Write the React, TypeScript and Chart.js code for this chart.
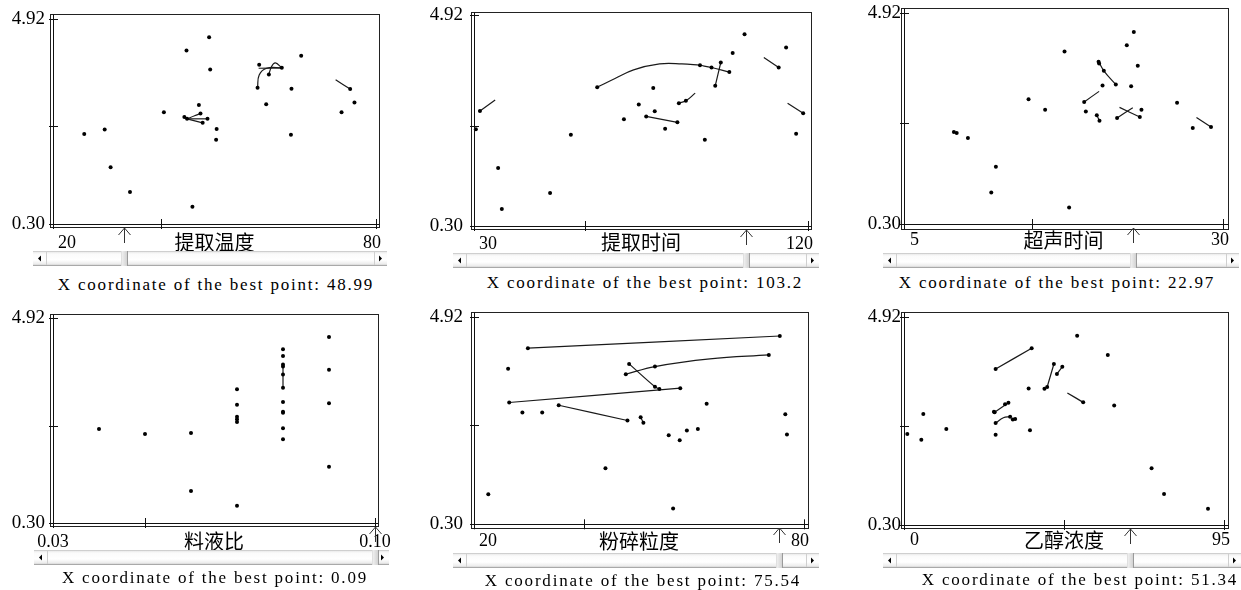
import { useEffect, useRef } from "react";
import { Chart, registerables } from "chart.js";

Chart.register(...registerables);

type Pt = [number, number];

// ---------- shared axis data ----------
const yTickValues = [0.3, 2.5, 4.92];
const yTickLabels = ["0.30", "", "4.92"];

const xTitles = ["提取温度", "提取时间", "超声时间", "料液比", "粉碎粒度", "乙醇浓度"];
const xMins = [20, 30, 5, 0.03, 20, 0];
const xMaxs = [80, 120, 30, 0.1, 80, 95];
const xMids = [40, 60, 15, 0.05, 40, 47.5];
const xMinLabels = ["20", "30", "5", "0.03", "20", "0"];
const xMaxLabels = ["80", "120", "30", "0.10", "80", "95"];
const markerX = [33.1, 103.2, 22.97, 0.1, 75.54, 67.1];
const bestX = ["48.99", "103.2", "22.97", "0.09", "75.54", "51.34"];

// ---------- panel 1: 提取温度 ----------
const p1Points: Pt[] = [
  [25.8, 2.33], [29.6, 2.43], [30.7, 1.58], [34.3, 1.02], [40.6, 2.82], [44.8, 4.21],
  [45.9, 0.69], [49.0, 4.51], [49.2, 3.78], [47.1, 2.98], [44.4, 2.71], [44.9, 2.67],
  [47.4, 2.79], [47.8, 2.58], [48.7, 2.67], [50.4, 2.44], [50.3, 2.2], [58.3, 3.89],
  [58.0, 3.37], [59.6, 3.0], [60.1, 3.67], [62.5, 3.82], [64.3, 3.35], [64.2, 2.31],
  [66.1, 4.09], [73.6, 2.82], [75.2, 3.34], [76.0, 3.04],
];
const p1Lines: Pt[][] = [
  [[44.9, 2.67], [48.7, 2.67]],
  [[44.9, 2.67], [46.3, 2.74], [47.4, 2.79]],
  [[44.9, 2.67], [47.8, 2.58]],
  [[44.4, 2.71], [44.9, 2.67]],
  [[58.0, 3.37], [58.3, 3.66], [59.7, 3.81], [62.5, 3.82]],
  [[58.2, 3.81], [62.5, 3.82]],
  [[60.1, 3.67], [60.6, 3.85], [61.3, 3.93], [62.5, 3.82]],
  [[72.5, 3.55], [75.2, 3.34]],
];

// ---------- panel 2: 提取时间 ----------
const p2Points: Pt[] = [
  [30.5, 2.42], [31.6, 2.82], [36.5, 1.57], [37.5, 0.67], [50.5, 1.02], [56.1, 2.3],
  [63.2, 3.34], [70.4, 2.64], [74.4, 2.96], [78.3, 3.32], [78.7, 2.81], [76.4, 2.7],
  [84.8, 2.57], [81.5, 2.43], [85.2, 2.99], [87.1, 3.04], [92.2, 2.19], [90.9, 3.82],
  [94.0, 3.77], [98.8, 3.67], [95.0, 3.37], [96.5, 3.88], [99.7, 4.09], [102.9, 4.5],
  [112.1, 3.77], [114.1, 4.21], [116.8, 2.32], [118.7, 2.77],
];
const p2Lines: Pt[][] = [
  [[31.6, 2.82], [35.7, 3.06]],
  [[63.2, 3.34], [68, 3.53], [73, 3.72], [80, 3.85], [86, 3.85], [90.9, 3.82]],
  [[90.9, 3.82], [94.0, 3.77], [98.8, 3.67]],
  [[95.0, 3.37], [96.5, 3.88]],
  [[76.4, 2.7], [84.8, 2.57]],
  [[85.2, 2.99], [87.1, 3.04], [89.6, 3.21]],
  [[108.1, 3.99], [112.1, 3.77]],
  [[114.5, 2.99], [118.7, 2.77]],
];

// ---------- panel 3: 超声时间 ----------
const p3Points: Pt[] = [
  [8.91, 2.31], [9.13, 2.29], [10.01, 2.18], [12.2, 1.55], [11.84, 0.99], [14.76, 3.03],
  [16.06, 2.8], [17.58, 4.07], [17.94, 0.66], [19.12, 2.97], [19.25, 2.76], [20.11, 2.68],
  [20.32, 2.56], [20.25, 3.85], [20.29, 3.81], [20.66, 3.65], [21.6, 3.35], [20.56, 3.33],
  [22.46, 4.21], [23.01, 4.5], [22.8, 3.31], [23.32, 3.76], [21.7, 2.62], [23.48, 2.64],
  [23.61, 2.8], [26.4, 2.95], [27.63, 2.4], [29.06, 2.42],
];
const p3Lines: Pt[][] = [
  [[19.12, 2.97], [20.29, 3.2]],
  [[20.25, 3.85], [20.66, 3.65], [21.6, 3.35]],
  [[21.7, 2.62], [22.93, 2.84]],
  [[21.89, 2.85], [23.48, 2.64]],
  [[27.92, 2.63], [29.06, 2.42]],
  [[20.11, 2.68], [20.32, 2.56]],
];

// ---------- panel 4: 料液比 ----------
const p4Points: Pt[] = [
  [0.04, 2.42], [0.05, 2.31], [0.06, 2.33], [0.06, 1.02], [0.07, 3.32], [0.07, 2.97],
  [0.07, 2.7], [0.07, 2.64], [0.07, 2.58], [0.07, 0.69], [0.08, 4.22], [0.08, 4.07],
  [0.08, 3.88], [0.08, 3.83], [0.08, 3.65], [0.08, 3.35], [0.08, 3.03], [0.08, 2.81],
  [0.08, 2.79], [0.08, 2.44], [0.08, 2.19], [0.09, 4.5], [0.09, 3.76], [0.09, 3.0],
  [0.09, 1.57],
];
const p4Lines: Pt[][] = [[[0.08, 3.88], [0.08, 3.35]]];

// ---------- panel 5: 粉碎粒度 ----------
const p5Points: Pt[] = [
  [22.6, 0.97], [26.2, 3.76], [26.4, 3.01], [28.8, 2.79], [32.4, 2.79], [29.8, 4.22],
  [35.4, 2.95], [47.9, 2.61], [43.9, 1.55], [47.6, 3.64], [52.9, 3.81], [48.2, 3.87],
  [52.9, 3.36], [53.7, 3.31], [57.5, 3.33], [50.3, 2.68], [50.8, 2.56], [55.4, 2.28],
  [56.2, 0.65], [57.4, 2.17], [58.7, 2.39], [60.7, 2.42], [62.3, 2.98], [73.6, 4.07],
  [75.6, 4.49], [76.6, 2.75], [76.9, 2.3],
];
const p5Lines: Pt[][] = [
  [[26.4, 3.01], [57.5, 3.33]],
  [[29.8, 4.22], [75.6, 4.49]],
  [[35.4, 2.95], [47.9, 2.61]],
  [[47.6, 3.64], [52.9, 3.81], [62.9, 3.98], [73.6, 4.07]],
  [[48.2, 3.87], [52.9, 3.36], [53.7, 3.31]],
  [[50.3, 2.68], [50.8, 2.56]],
];

// ---------- panel 6: 乙醇浓度 ----------
const p6Points: Pt[] = [
  [0.98, 2.32], [5.14, 2.19], [5.73, 2.76], [12.56, 2.43], [27.2, 3.76], [37.9, 4.22],
  [26.7, 2.81], [26.9, 2.8], [31.0, 3.01], [30.0, 2.98], [27.2, 2.56], [31.5, 2.7],
  [32.3, 2.64], [33.0, 2.65], [27.2, 2.3], [37.0, 3.33], [37.4, 2.4], [41.7, 3.32],
  [42.5, 3.36], [44.5, 3.87], [45.4, 3.65], [47.0, 3.81], [51.4, 4.5], [53.2, 3.02],
  [60.5, 4.07], [62.4, 2.95], [73.5, 1.56], [77.2, 0.99], [90.25, 0.66],
];
const p6Lines: Pt[][] = [
  [[27.2, 3.76], [37.9, 4.22]],
  [[26.9, 2.8], [31.0, 3.01]],
  [[27.2, 2.56], [29.5, 2.68], [31.5, 2.7]],
  [[42.5, 3.36], [44.5, 3.87]],
  [[45.4, 3.65], [47.0, 3.81]],
  [[48.5, 3.23], [53.2, 3.02]],
];

const panelPoints = [p1Points, p2Points, p3Points, p4Points, p5Points, p6Points];
const panelLines = [p1Lines, p2Lines, p3Lines, p4Lines, p5Lines, p6Lines];

// ---------- layout (page pixels) ----------
interface Geo {
  cl: number; ct: number; cw: number; ch: number;
  l: number; r: number; t: number; b: number;
  xh: number; xPad: number; yPad: number; xOff: number; xAlign: "inner" | "center";
  frame: [number, number, number, number];
  sb: [number, number, number];
  cap: [number, number];
}

const GEO: Geo[] = [
  { cl: 0, ct: -10, cw: 415, ch: 282, l: 53, r: 376, t: 19, b: 224, xh: 30.7, xPad: 8, yPad: 8, xOff: 5, xAlign: "inner", frame: [3, 3, 5, 3], sb: [33, 387, 251], cap: [216, 285] },
  { cl: 415, ct: -10, cw: 415, ch: 282, l: 474, r: 808, t: 15, b: 226, xh: 28.7, xPad: 7, yPad: 11, xOff: 5, xAlign: "inner", frame: [3, 3, 3, 3], sb: [453, 819, 253], cap: [645, 283] },
  { cl: 830, ct: -10, cw: 411, ch: 282, l: 904, r: 1223, t: 12.7, b: 224, xh: 28.7, xPad: 5, yPad: 3, xOff: 6, xAlign: "inner", frame: [3, 5, 5, 5], sb: [883, 1239, 253], cap: [1057, 283] },
  { cl: 0, ct: 285, cw: 415, ch: 287, l: 53, r: 375, t: 318.3, b: 523, xh: 30, xPad: 8, yPad: 8, xOff: 0, xAlign: "center", frame: [3, 3, 4, 3], sb: [34, 389, 550], cap: [215, 578] },
  { cl: 415, ct: 285, cw: 415, ch: 287, l: 474, r: 804, t: 316.7, b: 524.3, xh: 28.7, xPad: 6.6, yPad: 11, xOff: 5, xAlign: "inner", frame: [3, 3.5, 4.4, 4], sb: [453, 819, 553], cap: [643, 581] },
  { cl: 830, ct: 285, cw: 411, ch: 287, l: 904, r: 1224, t: 316.7, b: 525, xh: 27.2, xPad: 4, yPad: 3, xOff: 6, xAlign: "inner", frame: [3.3, 4.3, 4.4, 3], sb: [883, 1241, 553], cap: [1080, 580] },
];

const NUM_FONT = '"Liberation Serif", "DejaVu Serif", serif';
const CJK_FONT = '"Noto Sans CJK SC", "Noto Sans CJK JP", sans-serif';

function decorPlugin(g: Geo, marker: number) {
  return {
    id: "decor",
    afterDraw(chart: any) {
      const ctx: CanvasRenderingContext2D = chart.ctx;
      const a = chart.chartArea;
      const xs = chart.scales.x;
      const ys = chart.scales.y;
      const R = (v: number) => Math.round(v) + 0.5;
      const fl = a.left - g.frame[0];
      const fr = a.right + g.frame[1];
      const ft = a.top - g.frame[2];
      const fb = a.bottom + g.frame[3];
      ctx.save();
      ctx.strokeStyle = "#222";
      ctx.lineWidth = 1;
      ctx.strokeRect(R(fl), R(ft), Math.round(fr) - Math.round(fl), Math.round(fb) - Math.round(ft));
      ctx.beginPath();
      ctx.strokeStyle = "#111";
      ctx.moveTo(R(a.left), R(ft));
      ctx.lineTo(R(a.left), R(fb));
      ctx.moveTo(R(fl), R(a.bottom));
      ctx.lineTo(R(fr), R(a.bottom));
      for (const tk of ys.ticks) {
        const y = R(ys.getPixelForValue(tk.value));
        ctx.moveTo(a.left - 4, y);
        ctx.lineTo(a.left + 5, y);
      }
      for (const tk of xs.ticks) {
        const x = R(xs.getPixelForValue(tk.value));
        ctx.moveTo(x, a.bottom - 5);
        ctx.lineTo(x, a.bottom + 5);
      }
      ctx.stroke();

      // marker arrow under the axis
      const ax = R(xs.getPixelForValue(marker));
      const ay = Math.round(a.bottom) + 4;
      ctx.beginPath();
      ctx.strokeStyle = "#333";
      ctx.moveTo(ax, ay);
      ctx.lineTo(ax, ay + 15);
      ctx.moveTo(ax - 6, ay + 7);
      ctx.lineTo(ax, ay);
      ctx.lineTo(ax + 6, ay + 7);
      ctx.stroke();

      // scrollbar
      const x0 = g.sb[0] - g.cl;
      const x1 = g.sb[1] - g.cl;
      const y0 = g.sb[2] - g.ct;
      const h = 15;
      const grad = ctx.createLinearGradient(0, y0, 0, y0 + h);
      grad.addColorStop(0, "#e2e2e2");
      grad.addColorStop(0.2, "#fbfbfb");
      grad.addColorStop(0.6, "#ffffff");
      grad.addColorStop(0.85, "#ededed");
      grad.addColorStop(1, "#c4c4c4");
      ctx.fillStyle = grad;
      ctx.fillRect(x0, y0, x1 - x0, h);
      ctx.beginPath();
      ctx.strokeStyle = "#cfcfcf";
      ctx.moveTo(x0, y0 + 0.5);
      ctx.lineTo(x1, y0 + 0.5);
      ctx.moveTo(R(x0 + 13), y0 + 1);
      ctx.lineTo(R(x0 + 13), y0 + h - 1);
      ctx.moveTo(R(x1 - 13), y0 + 1);
      ctx.lineTo(R(x1 - 13), y0 + h - 1);
      ctx.stroke();
      ctx.beginPath();
      ctx.strokeStyle = "#a9a9a9";
      ctx.moveTo(x0, y0 + h - 0.5);
      ctx.lineTo(x1, y0 + h - 0.5);
      ctx.stroke();
      ctx.fillStyle = "#000";
      const cy = y0 + h / 2;
      ctx.beginPath();
      ctx.moveTo(x0 + 5, cy);
      ctx.lineTo(x0 + 8, cy - 3);
      ctx.lineTo(x0 + 8, cy + 3);
      ctx.closePath();
      ctx.fill();
      ctx.beginPath();
      ctx.moveTo(x1 - 5, cy);
      ctx.lineTo(x1 - 8, cy - 3);
      ctx.lineTo(x1 - 8, cy + 3);
      ctx.closePath();
      ctx.fill();
      const tx = Math.round(xs.getPixelForValue(marker));
      const tg = ctx.createLinearGradient(tx - 3, 0, tx + 4, 0);
      tg.addColorStop(0, "#f4f4f4");
      tg.addColorStop(1, "#cdcdcd");
      ctx.fillStyle = tg;
      ctx.fillRect(tx - 3, y0, 7, h);
      ctx.beginPath();
      ctx.strokeStyle = "#9a9a9a";
      ctx.moveTo(tx + 3.5, y0);
      ctx.lineTo(tx + 3.5, y0 + h);
      ctx.stroke();
      ctx.beginPath();
      ctx.strokeStyle = "#e0e0e0";
      ctx.moveTo(tx - 2.5, y0);
      ctx.lineTo(tx - 2.5, y0 + h);
      ctx.stroke();
      ctx.restore();
    },
  };
}

function Panel({ i }: { i: number }) {
  const ref = useRef<HTMLCanvasElement | null>(null);
  const g = GEO[i];
  useEffect(() => {
    if (!ref.current) return;
    const xmin = xMins[i];
    const xmax = xMaxs[i];
    const toXY = (p: Pt) => ({ x: p[0], y: p[1] });
    const datasets: any[] = [
      {
        type: "scatter",
        data: panelPoints[i].map(toXY),
        pointRadius: 2,
        pointBackgroundColor: "#000",
        pointBorderWidth: 0,
        showLine: false,
        clip: false,
      },
      ...panelLines[i].map((seg) => ({
        type: "line",
        data: seg.map(toXY),
        showLine: true,
        pointRadius: 0,
        borderColor: "#1a1a1a",
        borderWidth: 1.2,
        tension: 0.4,
        fill: false,
        clip: false,
      })),
    ];
    const xLabels = [xMinLabels[i], "", xMaxLabels[i]];
    const chart = new Chart(ref.current, {
      type: "scatter",
      data: { datasets },
      options: {
        animation: false,
        responsive: false,
        devicePixelRatio: 1,
        events: [],
        layout: {
          padding: {
            left: 0,
            right: g.cl + g.cw - g.r,
            top: g.t - g.ct,
            bottom: g.ct + g.ch - g.b - g.xh,
          },
        },
        plugins: {
          legend: { display: false },
          tooltip: { enabled: false },
          title: { display: false },
        },
        scales: {
          x: {
            type: "linear",
            position: "bottom",
            min: xmin,
            max: xmax,
            afterBuildTicks: (s: any) => {
              s.ticks = [{ value: xmin }, { value: xMids[i] }, { value: xmax }];
            },
            afterFit: (s: any) => {
              s.height = g.xh;
              s.paddingLeft = 0;
              s.paddingRight = 0;
            },
            grid: { display: false, drawTicks: false },
            border: { display: false },
            ticks: {
              autoSkip: false,
              maxRotation: 0,
              minRotation: 0,
              align: g.xAlign,
              labelOffset: g.xOff,
              padding: g.xPad,
              color: "#000",
              font: { family: NUM_FONT, size: 18 },
              callback: (_v: any, idx: number) => xLabels[idx] ?? "",
            },
            title: {
              display: true,
              text: xTitles[i],
              color: "#000",
              font: { family: CJK_FONT, size: 20 },
              padding: 0,
            },
          },
          y: {
            type: "linear",
            min: 0.3,
            max: 4.92,
            afterBuildTicks: (s: any) => {
              s.ticks = yTickValues.map((v) => ({ value: v }));
            },
            afterFit: (s: any) => {
              s.width = g.l - g.cl;
              s.paddingTop = 0;
              s.paddingBottom = 0;
            },
            grid: { display: false, drawTicks: false },
            border: { display: false },
            ticks: {
              autoSkip: false,
              padding: g.yPad,
              color: "#000",
              font: { family: NUM_FONT, size: 19 },
              callback: (_v: any, idx: number) => yTickLabels[idx] ?? "",
            },
          },
        },
      } as any,
      plugins: [decorPlugin(g, markerX[i])],
    });
    return () => chart.destroy();
  }, [i]);
  return (
    <>
      <canvas
        ref={ref}
        width={g.cw}
        height={g.ch}
        style={{ position: "absolute", left: g.cl, top: g.ct, width: g.cw, height: g.ch }}
      />
      <div
        style={{
          position: "absolute",
          left: g.cap[0] - 220,
          top: g.cap[1] - 11,
          width: 440,
          height: 22,
          lineHeight: "22px",
          textAlign: "center",
          fontFamily: NUM_FONT,
          fontSize: 17,
          letterSpacing: "1.8px",
          color: "#000",
          whiteSpace: "nowrap",
        }}
      >
        {`X coordinate of the best point: ${bestX[i]}`}
      </div>
    </>
  );
}

export default function App() {
  return (
    <div
      style={{
        position: "fixed",
        left: 0,
        top: 0,
        width: 1241,
        height: 590,
        background: "#fff",
        overflow: "hidden",
      }}
    >
      {[0, 1, 2, 3, 4, 5].map((i) => (
        <Panel key={i} i={i} />
      ))}
    </div>
  );
}
